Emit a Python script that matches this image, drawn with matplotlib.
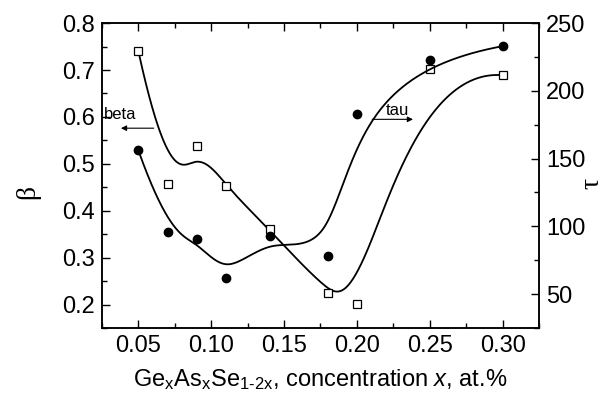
import numpy as np
import matplotlib
matplotlib.use("Agg")
import matplotlib.pyplot as plt
from matplotlib.ticker import MultipleLocator

plt.rcParams['font.family'] = ['Liberation Sans', 'DejaVu Sans']
plt.rcParams['mathtext.fontset'] = 'custom'
plt.rcParams['mathtext.rm'] = 'Liberation Sans'
plt.rcParams['mathtext.it'] = 'Liberation Sans:italic'

# data
x = [0.05, 0.07, 0.09, 0.11, 0.14, 0.18, 0.20, 0.25, 0.30]
beta = [0.740, 0.456, 0.539, 0.452, 0.360, 0.225, 0.202, 0.702, 0.689]
tau = [156, 96, 91, 62, 93, 78, 183, 223, 233]
x_ticks = [0.05, 0.10, 0.15, 0.20, 0.25, 0.30]
beta_ticks = [0.2, 0.3, 0.4, 0.5, 0.6, 0.7, 0.8]
tau_ticks = [50, 100, 150, 200, 250]


def bspline(px, py, k=3, num=600):
    P = np.column_stack([px, py]).astype(float)
    n = len(P)
    t = np.r_[np.zeros(k), np.arange(n - k + 1), np.full(k, n - k)].astype(float)
    us = np.linspace(0, n - k, num)
    out = []
    for u in us:
        s = min(int(np.searchsorted(t, u, side='right') - 1), n - 1)
        d = [P[j + s - k].copy() for j in range(k + 1)]
        for r in range(1, k + 1):
            for j in range(k, r - 1, -1):
                den = t[j + 1 + s - r] - t[j + s - k]
                a = 0.0 if den == 0 else (u - t[j + s - k]) / den
                d[j] = (1 - a) * d[j - 1] + a * d[j]
        out.append(d[k])
    out = np.array(out)
    return out[:, 0], out[:, 1]


fig = plt.figure(figsize=(6.07, 3.99), dpi=100)
ax = fig.add_axes([0.168, 0.178, 0.720, 0.764])
ax2 = ax.twinx()

bx, by = bspline(x, beta)
ax.plot(bx, by, color='black', lw=1.3, zorder=2)
ax.plot(x, beta, linestyle='none', marker='s', markersize=5.5,
        markerfacecolor='white', markeredgecolor='black', markeredgewidth=0.9, zorder=3)

tx, ty = bspline(x, tau)
ax2.plot(tx, ty, color='black', lw=1.3, zorder=2)
ax2.plot(x, tau, linestyle='none', marker='o', markersize=6,
         color='black', zorder=3)

ax.set_xlim(0.025, 0.325)
ax.set_ylim(0.15, 0.8)
ax2.set_ylim(25, 250)

ax.set_xticks(x_ticks)
ax.set_xticklabels([f"{v:.2f}" for v in x_ticks])
ax.xaxis.set_minor_locator(MultipleLocator(0.025))
ax.set_yticks(beta_ticks)
ax.set_yticklabels([f"{v:.1f}" for v in beta_ticks])
ax.yaxis.set_minor_locator(MultipleLocator(0.05))
ax2.set_yticks(tau_ticks)
ax2.set_yticklabels([str(v) for v in tau_ticks])
ax2.yaxis.set_minor_locator(MultipleLocator(25))

for a in (ax, ax2):
    for s in a.spines.values():
        s.set_linewidth(1.1)

ax.tick_params(axis='x', which='both', direction='in', top=True, bottom=True,
               labelsize=17, pad=5)
ax.tick_params(axis='y', which='both', direction='in', left=True, right=False,
               labelsize=17, pad=5)
ax.tick_params(which='major', length=6, width=1.0)
ax.tick_params(which='minor', length=3.5, width=1.0)
ax2.tick_params(axis='y', which='both', direction='in', right=True, left=False,
                labelsize=17, pad=5)
ax2.tick_params(which='major', length=6, width=1.0)
ax2.tick_params(which='minor', length=3.5, width=1.0)

ax.set_xlabel(r"Ge$_{\mathrm{x}}$As$_{\mathrm{x}}$Se$_{\mathrm{1\text{-}2x}}$, concentration $x$, at.%",
              fontsize=17, labelpad=7)
fig.text(0.046, 0.519, "β", fontsize=20, family=['Liberation Serif', 'DejaVu Serif'],
         rotation=90, ha='center', va='center')
fig.text(0.975, 0.541, "τ", fontsize=20, family=['Liberation Serif', 'DejaVu Serif'],
         rotation=90, ha='center', va='center')

# annotations
ax.text(0.026, 0.596, "beta", fontsize=12, ha='left', va='baseline')
ax.annotate("", xy=(0.038, 0.576), xytext=(0.0605, 0.576),
            arrowprops=dict(arrowstyle='-|>', color='black', lw=0.8,
                            mutation_scale=8, shrinkA=0, shrinkB=0))
ax2.text(0.2195, 182.5, "tau", fontsize=12, ha='left', va='baseline')
ax2.annotate("", xy=(0.2385, 179), xytext=(0.2105, 179),
             arrowprops=dict(arrowstyle='-|>', color='black', lw=0.8,
                             mutation_scale=8, shrinkA=0, shrinkB=0))

fig.savefig("out.png", dpi=100)
